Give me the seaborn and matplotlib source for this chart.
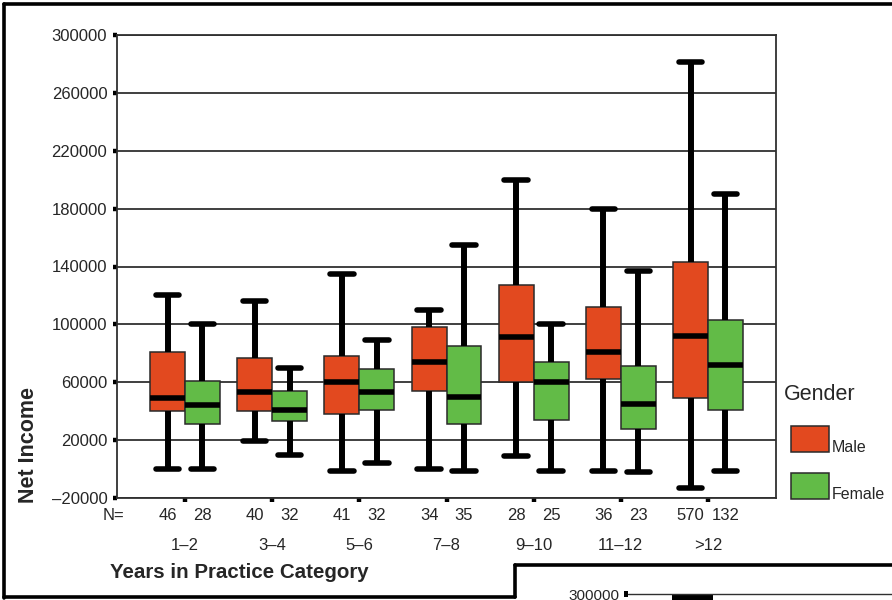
import numpy as np
import pandas as pd
import seaborn as sns
import matplotlib.pyplot as plt
from matplotlib.lines import Line2D
from matplotlib.patches import Rectangle

# ---------------- data ----------------
categories = ["1–2", "3–4", "5–6", "7–8", "9–10", "11–12", ">12"]
genders = ["Male", "Female"]
male_n = [46, 40, 41, 34, 28, 36, 570]
female_n = [28, 32, 32, 35, 25, 23, 132]

# five-number summaries (lower whisker, Q1, median, Q3, upper whisker)
male_low = [0, 19500, -1000, 0, 9000, -1000, -13000]
male_q1 = [40000, 40000, 38000, 54000, 60000, 62000, 49000]
male_med = [49000, 53000, 60000, 74000, 91000, 81000, 92000]
male_q3 = [81000, 77000, 78000, 98000, 127000, 112000, 143000]
male_high = [120000, 116000, 135000, 110000, 200000, 180000, 281000]

female_low = [0, 10000, 4000, -1000, -1000, -2000, -1000]
female_q1 = [31000, 33000, 41000, 31000, 34000, 28000, 41000]
female_med = [44000, 41000, 53000, 50000, 60000, 45000, 72000]
female_q3 = [61000, 54000, 69000, 85000, 74000, 71000, 103000]
female_high = [100000, 70000, 89000, 155000, 100000, 137000, 190000]

y_ticks = [-20000, 20000, 60000, 100000, 140000, 180000, 220000, 260000, 300000]

MALE_COLOR = "#E2491F"
FEMALE_COLOR = "#62BB47"

rows = []
for i, cat in enumerate(categories):
    for g, five in (("Male", (male_low, male_q1, male_med, male_q3, male_high)),
                    ("Female", (female_low, female_q1, female_med, female_q3, female_high))):
        for arr in five:
            rows.append({"Years": cat, "Gender": g, "Net Income": arr[i]})
df = pd.DataFrame(rows)

# ---------------- figure ----------------
sns.set_style("white")
plt.rcParams["font.family"] = ["Liberation Sans", "DejaVu Sans"]

W, H = 892, 600
fig = plt.figure(figsize=(W / 100, H / 100), dpi=100)


def fx(x):
    return x / W


def fy(y):
    return 1 - y / H


ax_l, ax_r, ax_t, ax_b = 117, 776, 35, 498
ax = fig.add_axes([fx(ax_l), fy(ax_b), fx(ax_r - ax_l), (ax_b - ax_t) / H])

sns.boxplot(
    data=df, x="Years", y="Net Income", hue="Gender",
    order=categories, hue_order=genders,
    palette={"Male": MALE_COLOR, "Female": FEMALE_COLOR},
    width=0.8, gap=0, whis=(0, 100), fliersize=0, legend=False,
    linecolor="black", linewidth=1.0, saturation=1,
    capwidths=0.27,
    boxprops=dict(edgecolor="#2a2a2a", linewidth=1.1),
    whiskerprops=dict(color="black", linewidth=4.3),
    capprops=dict(color="black", linewidth=4.0),
    medianprops=dict(color="black", linewidth=4.0),
    ax=ax,
)

ax.set_xlim(-0.78, 6.78)
ax.set_ylim(-20000, 300000)
ax.set_yticks(y_ticks)
ax.set_yticklabels([f"{v}".replace("-", "–") for v in y_ticks])
ax.yaxis.grid(True, color="#303030", linewidth=1.3)
ax.xaxis.grid(False)
ax.set_axisbelow(True)
for s in ax.spines.values():
    s.set_color("#303030")
    s.set_linewidth(1.3)
    s.set_visible(True)

ax.tick_params(axis="y", length=3, width=3.2, direction="out", color="black",
               labelsize=12, pad=4, left=True)
ax.tick_params(axis="x", length=3, width=3.2, direction="out", color="black",
               labelsize=12, pad=26, bottom=True)
ax.set_xlabel("")
ax.set_ylabel("")

# N row
xt = ax.get_xaxis_transform()
n_y = (ax_b - 516) / (ax_b - ax_t)
for i in range(len(categories)):
    ax.text(i - 0.2, n_y, str(male_n[i]), transform=xt, ha="center", va="center",
            fontsize=12, clip_on=False)
    ax.text(i + 0.2, n_y, str(female_n[i]), transform=xt, ha="center", va="center",
            fontsize=12, clip_on=False)
fig.text(fx(113), fy(516), "N=", ha="center", va="center", fontsize=12)

# axis titles
fig.text(fx(110), fy(573), "Years in Practice Category", ha="left", va="center",
         fontsize=14.8, fontweight="bold")
fig.text(fx(29), fy(445), "Net Income", ha="center", va="center", rotation=90,
         fontsize=15.5, fontweight="bold")

# legend (SPSS style)
fig.text(fx(784), fy(395), "Gender", ha="left", va="center", fontsize=15.5)
for (top, color, label) in ((426, MALE_COLOR, "Male"), (473, FEMALE_COLOR, "Female")):
    fig.add_artist(Rectangle((fx(791), fy(top + 26)), fx(38), 26 / H,
                             facecolor=color, edgecolor="#2a2a2a", linewidth=1.1,
                             transform=fig.transFigure))
    fig.text(fx(832), fy(top + 26), label, ha="left", va="baseline", fontsize=11.5)

# outer frame and neighbouring panel edge
lw = 2.6
fig.add_artist(Line2D([fx(4), fx(4)], [fy(4), fy(598)], color="black", lw=lw,
                      transform=fig.transFigure))
fig.add_artist(Line2D([fx(4), fx(892)], [fy(4), fy(4)], color="black", lw=lw,
                      transform=fig.transFigure))
fig.add_artist(Line2D([fx(4), fx(515)], [fy(597), fy(597)], color="black", lw=lw,
                      transform=fig.transFigure))
fig.add_artist(Line2D([fx(515), fx(515)], [fy(597), fy(565)], color="black", lw=lw,
                      transform=fig.transFigure))
fig.add_artist(Line2D([fx(515), fx(892)], [fy(565), fy(565)], color="black", lw=lw,
                      transform=fig.transFigure))
fig.text(fx(619), fy(589), "300000", ha="right", va="top", fontsize=11)
fig.add_artist(Line2D([fx(628), fx(892)], [fy(594), fy(594)], color="#303030", lw=1.0,
                      transform=fig.transFigure))
fig.add_artist(Rectangle((fx(624), fy(597)), fx(4), 6 / H, facecolor="black",
                         edgecolor="none", transform=fig.transFigure))
fig.add_artist(Rectangle((fx(672), fy(600)), fx(41), 6 / H, facecolor="black",
                         edgecolor="none", transform=fig.transFigure))

fig.savefig("out.png", dpi=100)
